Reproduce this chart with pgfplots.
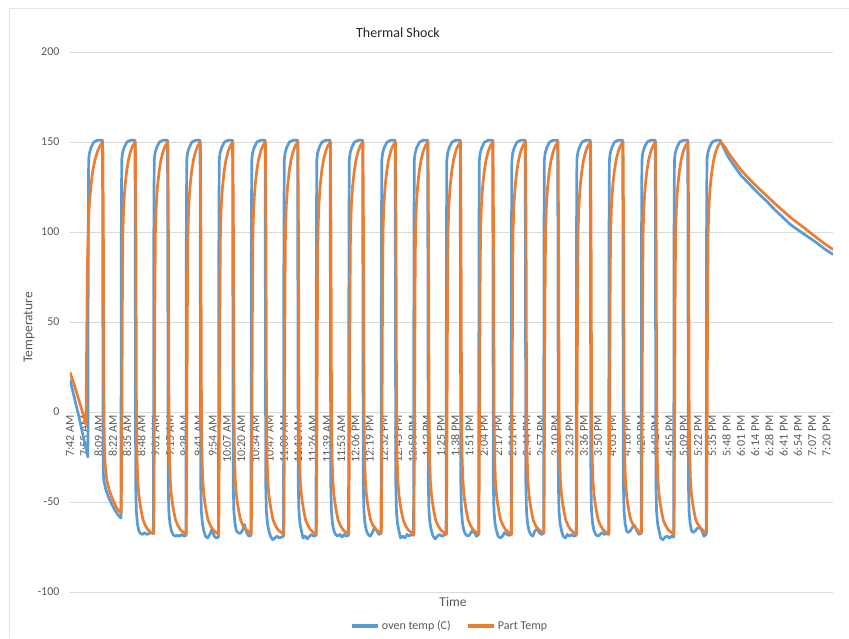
\documentclass[border=0pt]{standalone}
\usepackage{pgfplots}
\pgfplotsset{compat=1.18}
\usepackage{fontspec}
\setmainfont{Carlito}
\definecolor{ovenblue}{HTML}{5B9BD5}
\definecolor{partorange}{HTML}{ED7D31}
\definecolor{gridgrey}{HTML}{D9D9D9}
\definecolor{txtgrey}{HTML}{595959}
\definecolor{bordergrey}{HTML}{E3E3E3}
\begin{document}
\begin{tikzpicture}
\path[use as bounding box] (0pt,0pt) rectangle (849pt,638pt);
\draw[bordergrey, line width=0.8pt] (9pt,0pt) -- (9pt,630pt) -- (849pt,630pt);
\node[text=black!85, font=\fontsize{14}{16}\selectfont] at (398pt,605pt) {Thermal Shock};
\begin{axis}[
  at={(70pt,46pt)}, anchor=south west,
  width=763pt, height=540pt, scale only axis,
  xmin=0, xmax=704, ymin=-100, ymax=200,
  axis x line=middle, axis y line=left,
  x axis line style={-, draw=gridgrey, line width=0.8pt},
  y axis line style={draw=none},
  hide obscured x ticks=false, hide obscured y ticks=false,
  major tick length=0pt,
  ytick={-100,-50,0,50,100,150,200},
  yticklabels={-100,-50,0,50,100,150,200},
  ymajorgrids, major grid style={gridgrey, line width=0.8pt},
  xtick={0,13.17,26.34,39.51,52.68,65.85,79.02,92.19,105.36,118.53,131.70,144.87,158.04,171.21,184.38,197.55,210.72,223.89,237.06,250.23,263.40,276.57,289.74,302.91,316.08,329.25,342.42,355.58,368.75,381.92,395.09,408.26,421.43,434.60,447.77,460.94,474.11,487.28,500.45,513.62,526.79,539.96,553.13,566.30,579.47,592.64,605.81,618.98,632.15,645.32,658.49,671.66,684.83,698.00},
  xticklabels={7:42 AM,7:55 AM,8:09 AM,8:22 AM,8:35 AM,8:48 AM,9:01 AM,9:15 AM,9:28 AM,9:41 AM,9:54 AM,10:07 AM,10:20 AM,10:34 AM,10:47 AM,11:00 AM,11:13 AM,11:26 AM,11:39 AM,11:53 AM,12:06 PM,12:19 PM,12:32 PM,12:45 PM,12:58 PM,1:12 PM,1:25 PM,1:38 PM,1:51 PM,2:04 PM,2:17 PM,2:31 PM,2:44 PM,2:57 PM,3:10 PM,3:23 PM,3:36 PM,3:50 PM,4:03 PM,4:16 PM,4:29 PM,4:42 PM,4:55 PM,5:09 PM,5:22 PM,5:35 PM,5:48 PM,6:01 PM,6:14 PM,6:28 PM,6:41 PM,6:54 PM,7:07 PM,7:20 PM},
  x tick label style={rotate=90, anchor=east, text=txtgrey, font=\fontsize{12}{14}\selectfont},
  y tick label style={anchor=east, xshift=-7pt, text=txtgrey, font=\fontsize{12}{14}\selectfont},
  xlabel={Time}, ylabel={Temperature},
  xlabel style={at={(axis description cs:0.502,0)}, anchor=north, yshift=-2pt, text=txtgrey, font=\fontsize{13.5}{15}\selectfont},
  ylabel style={at={(axis description cs:-0.0537,0.49)}, anchor=center, rotate=0, text=txtgrey, font=\fontsize{13.5}{15}\selectfont},
  legend style={at={(axis description cs:0.498,-0.063)}, anchor=center, draw=none, fill=none,
    legend columns=2, font=\fontsize{12}{14}\selectfont, text=txtgrey,
    /tikz/every even column/.append style={column sep=14pt}},
  legend image code/.code={\draw[#1, line width=3.2pt] (0pt,0pt) -- (26pt,0pt);},
  every axis plot/.append style={line join=round},
]
\addplot[ovenblue, line width=2.7pt] coordinates {
(0,18) (4,8) (8,-2) (12,-13) (15,-21) (16.5,-25)
(16.85,100) (17.2,140) (18,144) (19.5,147) (22,150) (25.5,151) (30,151)
(30.3,50) (30.6,-32) (31.2,-38) (33,-43) (36,-48) (40,-53) (44,-57) (47,-59)
(47.35,100) (47.7,140) (48.5,144) (50,147) (52.5,150) (56,151) (60,151)
(60.3,50) (60.6,-40) (61.2,-55) (62.2,-62) (63.5,-66) (65,-67.5) (67,-68) (69,-67) (71,-68) (73,-67.5) (75,-67) (77,-67.5)
(77.35,100) (77.7,140) (78.5,144) (80,147) (82.5,150) (86,151) (90,151)
(90.3,50) (90.6,-40) (91.2,-55) (92.2,-62) (93.5,-66) (95,-68) (97,-69) (99,-68.5) (101,-69) (103,-68) (105,-69) (107,-68.5)
(107.35,100) (107.7,140) (108.5,144) (110,147) (112.5,150) (116,151) (120,151)
(120.3,50) (120.6,-40) (121.2,-55) (122.2,-62) (123.5,-66) (125,-69) (127,-70) (129,-68) (131,-65) (133,-69) (135,-70) (137,-69.5)
(137.35,100) (137.7,140) (138.5,144) (140,147) (142.5,150) (146,151) (150,151)
(150.3,50) (150.6,-40) (151.2,-55) (152.2,-62) (153.5,-66) (155,-67) (157,-67.5) (159,-66) (161,-62.5) (163,-67) (165,-69) (167,-68.5)
(167.35,100) (167.7,140) (168.5,144) (170,147) (172.5,150) (176,151) (180,151)
(180.3,50) (180.6,-40) (181.2,-55) (182.2,-62) (183.5,-66) (185,-69) (187,-71) (189,-70) (191,-69) (193,-70) (195,-69.5) (197,-69)
(197.35,100) (197.7,140) (198.5,144) (200,147) (202.5,150) (206,151) (210,151)
(210.3,50) (210.6,-40) (211.2,-55) (212.2,-62) (213.5,-66) (215,-70) (217,-69) (219,-70.5) (221,-69) (223,-68) (225,-69) (227,-68.5)
(227.35,100) (227.7,140) (228.5,144) (230,147) (232.5,150) (236,151) (240,151)
(240.3,50) (240.6,-40) (241.2,-55) (242.2,-62) (243.5,-66) (245,-68) (247,-69) (249,-68) (251,-69.5) (253,-68) (255,-69) (257,-68.5)
(257.35,100) (257.7,140) (258.5,144) (260,147) (262.5,150) (266,151) (270,151)
(270.3,50) (270.6,-40) (271.2,-55) (272.2,-62) (273.5,-66) (275,-68) (277,-69) (279,-67) (281,-64) (283,-66) (285,-68) (287,-67.5)
(287.35,100) (287.7,140) (288.5,144) (290,147) (292.5,150) (296,151) (300,151)
(300.3,50) (300.6,-40) (301.2,-55) (302.2,-62) (303.5,-66) (305,-70) (307,-69) (309,-70) (311,-68) (313,-69) (315,-68) (317,-68.5)
(317.35,100) (317.7,140) (318.5,144) (320,147) (322.5,150) (326,151) (330,151)
(330.3,50) (330.6,-40) (331.2,-55) (332.2,-62) (333.5,-66) (335,-69) (337,-70.5) (339,-69) (341,-68) (343,-69) (345,-68.5) (347,-68)
(347.35,100) (347.7,140) (348.5,144) (350,147) (352.5,150) (356,151) (360,151)
(360.3,50) (360.6,-40) (361.2,-55) (362.2,-62) (363.5,-66) (365,-68) (367,-69) (369,-68) (371,-66) (373,-67) (375,-69) (377,-68)
(377.35,100) (377.7,140) (378.5,144) (380,147) (382.5,150) (386,151) (390,151)
(390.3,50) (390.6,-40) (391.2,-55) (392.2,-62) (393.5,-66) (395,-69) (397,-70) (399,-69) (401,-67) (403,-68) (405,-68.5) (407,-68)
(407.35,100) (407.7,140) (408.5,144) (410,147) (412.5,150) (416,151) (420,151)
(420.3,50) (420.6,-40) (421.2,-55) (422.2,-62) (423.5,-66) (425,-68) (427,-69) (429,-66) (431,-65) (433,-67) (435,-68) (437,-67.5)
(437.35,100) (437.7,140) (438.5,144) (440,147) (442.5,150) (446,151) (450,151)
(450.3,50) (450.6,-40) (451.2,-55) (452.2,-62) (453.5,-66) (455,-69) (457,-70) (459,-68) (461,-69) (463,-68) (465,-69) (467,-68.5)
(467.35,100) (467.7,140) (468.5,144) (470,147) (472.5,150) (476,151) (480,151)
(480.3,50) (480.6,-40) (481.2,-55) (482.2,-62) (483.5,-66) (485,-68) (487,-69) (489,-68) (491,-67) (493,-68) (495,-67.5) (497,-68)
(497.35,100) (497.7,140) (498.5,144) (500,147) (502.5,150) (506,151) (510,151)
(510.3,50) (510.6,-40) (511.2,-55) (512.2,-62) (513.5,-66) (515,-67) (517,-66) (519,-64) (521,-63) (523,-66) (525,-68) (527,-67.5)
(527.35,100) (527.7,140) (528.5,144) (530,147) (532.5,150) (536,151) (540,151)
(540.3,50) (540.6,-40) (541.2,-55) (542.2,-62) (543.5,-66) (545,-70) (547,-71) (549,-69.5) (551,-69) (553,-70) (555,-69) (557,-69.5)
(557.35,100) (557.7,140) (558.5,144) (560,147) (562.5,150) (566,151) (570,151)
(570.3,50) (570.6,-40) (571.2,-55) (572.2,-62) (573.5,-66) (575,-67) (577,-66) (579,-64.5) (581,-64) (583,-66) (585,-69) (587,-68)
(587.35,100) (587.7,140) (588.5,144) (590,147) (592.5,150) (596,151) (600,151)
(603,147) (607,142) (611.8,137.6) (619,131.5) (627,126.5) (635,121.5) (643,117) (650,112.5) (658,108) (665,104) (673,100.6) (681,97.3) (689,94) (696,90.7) (704,87.5)
};
\addlegendentry{oven temp (C)}
\addplot[partorange, line width=2.7pt] coordinates {
(0,22) (4,15) (8,7) (12,-1) (14.8,-7)
(15.4,40) (16,80) (16.8,100) (17.8,115) (19.2,125) (21,134) (23,140) (25.5,145) (27.8,148) (30.3,150)
(30.8,100) (31.3,0) (31.8,-20) (32.5,-30) (34,-38) (36,-43) (39,-48) (42,-52) (45,-55) (47.3,-56)
(47.9,0) (48.4,70) (48.8,100) (49.6,115) (50.7,125) (52.3,134) (53.9,140) (56,145) (58,148) (60.3,150)
(60.8,100) (61.3,0) (61.8,-25) (62.5,-38) (63.5,-46) (64.6,-51) (66,-56) (67.4,-60) (69.5,-63) (72,-65.5) (75,-67) (77.3,-67.5)
(77.9,0) (78.4,70) (78.8,100) (79.6,115) (80.7,125) (82.3,134) (83.9,140) (86,145) (88,148) (90.3,150)
(90.8,100) (91.3,0) (91.8,-25) (92.5,-38) (93.5,-46) (94.6,-51) (96,-56) (97.4,-60) (99.5,-63) (102,-65.5) (105,-67) (107.3,-68)
(107.9,0) (108.4,70) (108.8,100) (109.6,115) (110.7,125) (112.3,134) (113.9,140) (116,145) (118,148) (120.3,150)
(120.8,100) (121.3,0) (121.8,-25) (122.5,-38) (123.5,-46) (124.6,-51) (126,-56) (127.4,-60) (129.5,-63) (132,-65.5) (135,-67) (137.3,-68)
(137.9,0) (138.4,70) (138.8,100) (139.6,115) (140.7,125) (142.3,134) (143.9,140) (146,145) (148,148) (150.3,150)
(150.8,100) (151.3,0) (151.8,-25) (152.5,-38) (153.5,-46) (154.6,-51) (156,-56) (157.4,-60) (159.5,-63) (162,-65) (165,-66.5) (167.3,-67.5)
(167.9,0) (168.4,70) (168.8,100) (169.6,115) (170.7,125) (172.3,134) (173.9,140) (176,145) (178,148) (180.3,150)
(180.8,100) (181.3,0) (181.8,-25) (182.5,-38) (183.5,-46) (184.6,-51) (186,-56) (187.4,-60) (189.5,-63) (192,-65.5) (195,-67) (197.3,-68)
(197.9,0) (198.4,70) (198.8,100) (199.6,115) (200.7,125) (202.3,134) (203.9,140) (206,145) (208,148) (210.3,150)
(210.8,100) (211.3,0) (211.8,-25) (212.5,-38) (213.5,-46) (214.6,-51) (216,-56) (217.4,-60) (219.5,-63) (222,-65.5) (225,-67) (227.3,-68)
(227.9,0) (228.4,70) (228.8,100) (229.6,115) (230.7,125) (232.3,134) (233.9,140) (236,145) (238,148) (240.3,150)
(240.8,100) (241.3,0) (241.8,-25) (242.5,-38) (243.5,-46) (244.6,-51) (246,-56) (247.4,-60) (249.5,-63) (252,-65.5) (255,-67) (257.3,-67.5)
(257.9,0) (258.4,70) (258.8,100) (259.6,115) (260.7,125) (262.3,134) (263.9,140) (266,145) (268,148) (270.3,150)
(270.8,100) (271.3,0) (271.8,-25) (272.5,-38) (273.5,-46) (274.6,-51) (276,-56) (277.4,-60) (279.5,-63) (282,-65) (285,-66.5) (287.3,-67)
(287.9,0) (288.4,70) (288.8,100) (289.6,115) (290.7,125) (292.3,134) (293.9,140) (296,145) (298,148) (300.3,150)
(300.8,100) (301.3,0) (301.8,-25) (302.5,-38) (303.5,-46) (304.6,-51) (306,-56) (307.4,-60) (309.5,-63) (312,-65.5) (315,-67) (317.3,-68)
(317.9,0) (318.4,70) (318.8,100) (319.6,115) (320.7,125) (322.3,134) (323.9,140) (326,145) (328,148) (330.3,150)
(330.8,100) (331.3,0) (331.8,-25) (332.5,-38) (333.5,-46) (334.6,-51) (336,-56) (337.4,-60) (339.5,-63) (342,-65.5) (345,-67) (347.3,-68)
(347.9,0) (348.4,70) (348.8,100) (349.6,115) (350.7,125) (352.3,134) (353.9,140) (356,145) (358,148) (360.3,150)
(360.8,100) (361.3,0) (361.8,-25) (362.5,-38) (363.5,-46) (364.6,-51) (366,-56) (367.4,-60) (369.5,-63) (372,-65.5) (375,-67) (377.3,-67.5)
(377.9,0) (378.4,70) (378.8,100) (379.6,115) (380.7,125) (382.3,134) (383.9,140) (386,145) (388,148) (390.3,150)
(390.8,100) (391.3,0) (391.8,-25) (392.5,-38) (393.5,-46) (394.6,-51) (396,-56) (397.4,-60) (399.5,-63) (402,-65.5) (405,-67) (407.3,-68)
(407.9,0) (408.4,70) (408.8,100) (409.6,115) (410.7,125) (412.3,134) (413.9,140) (416,145) (418,148) (420.3,150)
(420.8,100) (421.3,0) (421.8,-25) (422.5,-38) (423.5,-46) (424.6,-51) (426,-56) (427.4,-60) (429.5,-63) (432,-65) (435,-66.5) (437.3,-67)
(437.9,0) (438.4,70) (438.8,100) (439.6,115) (440.7,125) (442.3,134) (443.9,140) (446,145) (448,148) (450.3,150)
(450.8,100) (451.3,0) (451.8,-25) (452.5,-38) (453.5,-46) (454.6,-51) (456,-56) (457.4,-60) (459.5,-63) (462,-65.5) (465,-67) (467.3,-68)
(467.9,0) (468.4,70) (468.8,100) (469.6,115) (470.7,125) (472.3,134) (473.9,140) (476,145) (478,148) (480.3,150)
(480.8,100) (481.3,0) (481.8,-25) (482.5,-38) (483.5,-46) (484.6,-51) (486,-56) (487.4,-60) (489.5,-63) (492,-65.5) (495,-67) (497.3,-67.5)
(497.9,0) (498.4,70) (498.8,100) (499.6,115) (500.7,125) (502.3,134) (503.9,140) (506,145) (508,148) (510.3,150)
(510.8,100) (511.3,0) (511.8,-25) (512.5,-38) (513.5,-46) (514.6,-51) (516,-56) (517.4,-60) (519.5,-62.5) (522,-64.5) (525,-66.5) (527.3,-67)
(527.9,0) (528.4,70) (528.8,100) (529.6,115) (530.7,125) (532.3,134) (533.9,140) (536,145) (538,148) (540.3,150)
(540.8,100) (541.3,0) (541.8,-25) (542.5,-38) (543.5,-46) (544.6,-51) (546,-56) (547.4,-60) (549.5,-63) (552,-65.5) (555,-67) (557.3,-68)
(557.9,0) (558.4,70) (558.8,100) (559.6,115) (560.7,125) (562.3,134) (563.9,140) (566,145) (568,148) (570.3,150)
(570.8,100) (571.3,0) (571.8,-25) (572.5,-38) (573.5,-46) (574.6,-51) (576,-56) (577.4,-60) (579.5,-62.5) (582,-64.5) (585,-66.5) (587.3,-67)
(587.9,0) (588.4,70) (588.8,100) (589.6,115) (590.7,125) (592.3,134) (593.9,140) (596,145) (598,148) (600.5,150)
(604,147.5) (607,144.5) (611.8,140.4) (619,134.5) (627,129.3) (635,124.5) (643,120) (650,116) (658,111.7) (665,108) (673,104.3) (681,100.6) (689,96.8) (696,93.6) (704,90.3)
};
\addlegendentry{Part Temp}
\end{axis}
\end{tikzpicture}
\end{document}
